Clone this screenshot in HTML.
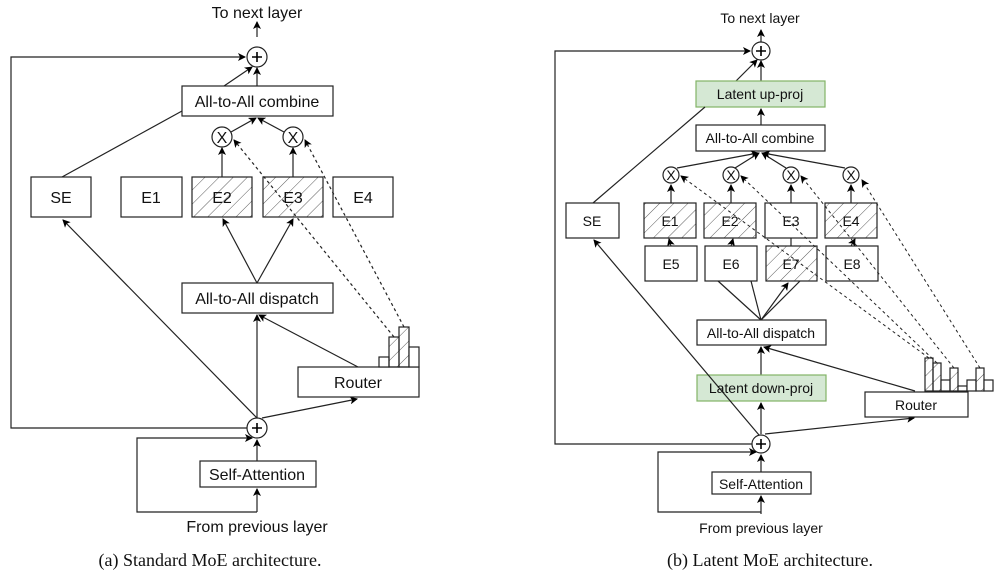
<!DOCTYPE html>
<html><head><meta charset="utf-8"><style>
html,body{margin:0;padding:0;background:#fff;width:1000px;height:580px;overflow:hidden}
</style></head><body>
<svg width="1000" height="580" viewBox="0 0 1000 580" xmlns="http://www.w3.org/2000/svg" font-family="Liberation Sans, Arial, sans-serif">
<defs>
<marker id="a" markerWidth="8" markerHeight="8" refX="7" refY="4" orient="auto" markerUnits="userSpaceOnUse"><path d="M0,0 L8,4 L0,8 L2,4 z" fill="#000"/></marker>
<pattern id="h" width="10" height="10" patternUnits="userSpaceOnUse" patternTransform="rotate(45)"><line x1="0" y1="0" x2="0" y2="10" stroke="#333" stroke-width="0.8"/></pattern>
</defs>
<g stroke="#222" stroke-width="1.2" fill="none">
<!-- LEFT -->
<path d="M257,428 H11 V57 H245" marker-end="url(#a)"/>
<path d="M257,37 V22" marker-end="url(#a)"/>
<circle cx="257" cy="57" r="10" fill="#fff"/>
<path d="M257,86 V68" marker-end="url(#a)"/>
<path d="M224,86 L252,67" marker-end="url(#a)"/>
<rect x="182" y="86" width="151" height="30" fill="#fff"/>
<path d="M62,177 L182,111"/>
<path d="M231,132 L256,118" marker-end="url(#a)"/>
<path d="M284,132 L258,118" marker-end="url(#a)"/>
<circle cx="222" cy="137" r="10" fill="#fff"/><circle cx="293" cy="137" r="10" fill="#fff"/>
<path d="M222,177 V148" marker-end="url(#a)"/><path d="M293,177 V148" marker-end="url(#a)"/>
<rect x="31" y="177" width="60" height="40" fill="#fff"/>
<rect x="121" y="177" width="61" height="40" fill="#fff"/>
<rect x="192" y="177" width="60" height="40" fill="url(#h)"/>
<rect x="263" y="177" width="60" height="40" fill="url(#h)"/>
<rect x="333" y="177" width="60" height="40" fill="#fff"/>
<path d="M257,283 L223,219" marker-end="url(#a)"/><path d="M257,283 L293,219" marker-end="url(#a)"/>
<rect x="182" y="283" width="151" height="30" fill="#fff"/>
<path d="M257,418 L63,220" marker-end="url(#a)"/>
<path d="M257,418 V315" marker-end="url(#a)"/>
<path d="M358,367 L259,315" marker-end="url(#a)"/>
<path d="M262,418 L357,399" marker-end="url(#a)"/>
<rect x="298" y="367" width="121" height="30" fill="#fff"/>
<rect x="379" y="357" width="10" height="10" fill="#fff"/>
<rect x="389" y="337" width="10" height="30" fill="url(#h)"/>
<rect x="399" y="327" width="10" height="40" fill="url(#h)"/>
<rect x="409" y="347" width="10" height="20" fill="#fff"/>
<path d="M394,337 L234,140" stroke-dasharray="3,3" marker-end="url(#a)"/>
<path d="M404,327 L305,140" stroke-dasharray="3,3" marker-end="url(#a)"/>
<circle cx="257" cy="428" r="10" fill="#fff"/>
<path d="M257,512 H137 V438 H252" marker-end="url(#a)"/>
<path d="M257,461 V440" marker-end="url(#a)"/>
<rect x="200" y="461" width="116" height="26" fill="#fff"/>
<path d="M257,512 V489" marker-end="url(#a)"/>

<!-- RIGHT -->
<path d="M761,444 H555 V51 H750" marker-end="url(#a)"/>
<path d="M761,42 V30" marker-end="url(#a)"/>
<circle cx="761" cy="51" r="9" fill="#fff"/>
<path d="M761,81 V61" marker-end="url(#a)"/>
<path d="M736,81 L757,60" marker-end="url(#a)"/>
<rect x="696" y="81" width="129" height="26" fill="#d5e8d4" stroke="#82b366"/>
<path d="M593,203 L705,107"/>
<path d="M761,125 V109" marker-end="url(#a)"/>
<rect x="696" y="125" width="129" height="26" fill="#fff"/>
<path d="M677,168 L758,153" marker-end="url(#a)"/>
<path d="M735,168 L759,153" marker-end="url(#a)"/>
<path d="M786,168 L762,153" marker-end="url(#a)"/>
<path d="M845,168 L763,153" marker-end="url(#a)"/>
<circle cx="671" cy="175" r="8" fill="#fff"/><circle cx="731" cy="175" r="8" fill="#fff"/>
<circle cx="791" cy="175" r="8" fill="#fff"/><circle cx="851" cy="175" r="8" fill="#fff"/>
<path d="M671,203 V185" marker-end="url(#a)"/><path d="M731,203 V185" marker-end="url(#a)"/>
<path d="M791,246 V185" marker-end="url(#a)"/><path d="M851,203 V185" marker-end="url(#a)"/>
<rect x="566" y="203" width="53" height="35" fill="#fff"/>
<rect x="644" y="203" width="52" height="35" fill="url(#h)"/>
<rect x="704" y="203" width="52" height="35" fill="url(#h)"/>
<rect x="765" y="203" width="52" height="35" fill="#fff"/>
<rect x="825" y="203" width="52" height="35" fill="url(#h)"/>
<path d="M671,246 L669,239" marker-end="url(#a)"/><path d="M731,246 L733,239" marker-end="url(#a)"/>
<path d="M851,246 L855,239" marker-end="url(#a)"/>
<rect x="645" y="246" width="52" height="35" fill="#fff"/>
<rect x="705" y="246" width="52" height="35" fill="#fff"/>
<rect x="766" y="246" width="51" height="35" fill="url(#h)"/>
<rect x="826" y="246" width="52" height="35" fill="#fff"/>
<path d="M761,320 L718,281"/><path d="M761,320 L751,281"/><path d="M761,320 L788,283" marker-end="url(#a)"/><path d="M761,320 L800,281"/>
<rect x="697" y="320" width="129" height="25" fill="#fff"/>
<path d="M761,375 V347" marker-end="url(#a)"/>
<path d="M915,391 L764,347" marker-end="url(#a)"/>
<rect x="697" y="375" width="129" height="26" fill="#d5e8d4" stroke="#82b366"/>
<path d="M761,434 V403" marker-end="url(#a)"/>
<path d="M759,435 L594,240" marker-end="url(#a)"/>
<path d="M765,434 L914,418" marker-end="url(#a)"/>
<rect x="865" y="392" width="103" height="25" fill="#fff"/>
<rect x="925" y="358" width="8" height="33" fill="url(#h)"/>
<rect x="933" y="363" width="8" height="28" fill="url(#h)"/>
<rect x="941" y="380" width="9" height="11" fill="#fff"/>
<rect x="950" y="368" width="8" height="23" fill="url(#h)"/>
<rect x="958" y="386" width="9" height="5" fill="#fff"/>
<rect x="967" y="380" width="9" height="11" fill="#fff"/>
<rect x="976" y="368" width="8" height="23" fill="url(#h)"/>
<rect x="984" y="380" width="9" height="11" fill="#fff"/>
<g stroke-dasharray="3,3" stroke-width="1">
<path d="M929,358 L681,176" marker-end="url(#a)"/>
<path d="M937,363 L741,176" marker-end="url(#a)"/>
<path d="M954,368 L801,176" marker-end="url(#a)"/>
<path d="M980,368 L862,180" marker-end="url(#a)"/>
</g>
<circle cx="761" cy="444" r="9" fill="#fff"/>
<path d="M761,512 H658 V452 H756" marker-end="url(#a)"/>
<path d="M761,472 V455" marker-end="url(#a)"/>
<rect x="712" y="472" width="99" height="22" fill="#fff"/>
<path d="M761,514 V496" marker-end="url(#a)"/>
</g>
<g stroke="#000" stroke-width="1.6">
<path d="M252,57 H262 M257,52 V62"/><path d="M252,428 H262 M257,423 V433"/>
<path d="M756,51 H766 M761,46 V56"/><path d="M756,444 H766 M761,439 V449"/>
</g>
<g fill="#111" text-anchor="middle" font-size="16">
<text x="257" y="18">To next layer</text>
<text x="257" y="107">All-to-All combine</text>
<text x="222" y="143" font-size="16">X</text><text x="293" y="143" font-size="16">X</text>
<text x="61" y="203">SE</text><text x="151" y="203">E1</text><text x="222" y="203">E2</text><text x="293" y="203">E3</text><text x="363" y="203">E4</text>
<text x="257" y="304">All-to-All dispatch</text>
<text x="358" y="388">Router</text>
<text x="257" y="480">Self-Attention</text>
<text x="257" y="532">From previous layer</text>
<g font-size="14">
<text x="760" y="23">To next layer</text>
<text x="760" y="99">Latent up-proj</text>
<text x="760" y="143">All-to-All combine</text>
<text x="671" y="180">X</text><text x="731" y="180">X</text><text x="791" y="180">X</text><text x="851" y="180">X</text>
<text x="592" y="226">SE</text><text x="670" y="226">E1</text><text x="730" y="226">E2</text><text x="791" y="226">E3</text><text x="851" y="226">E4</text>
<text x="671" y="269">E5</text><text x="731" y="269">E6</text><text x="791" y="269">E7</text><text x="852" y="269">E8</text>
<text x="761" y="338">All-to-All dispatch</text>
<text x="761" y="393">Latent down-proj</text>
<text x="916" y="410">Router</text>
<text x="761" y="489">Self-Attention</text>
<text x="761" y="533">From previous layer</text>
</g>
</g>
<g font-family="Liberation Serif, serif" font-size="18" fill="#111" text-anchor="middle">
<text x="210" y="566">(a) Standard MoE architecture.</text>
<text x="770" y="566">(b) Latent MoE architecture.</text>
</g>
</svg>
</body></html>
